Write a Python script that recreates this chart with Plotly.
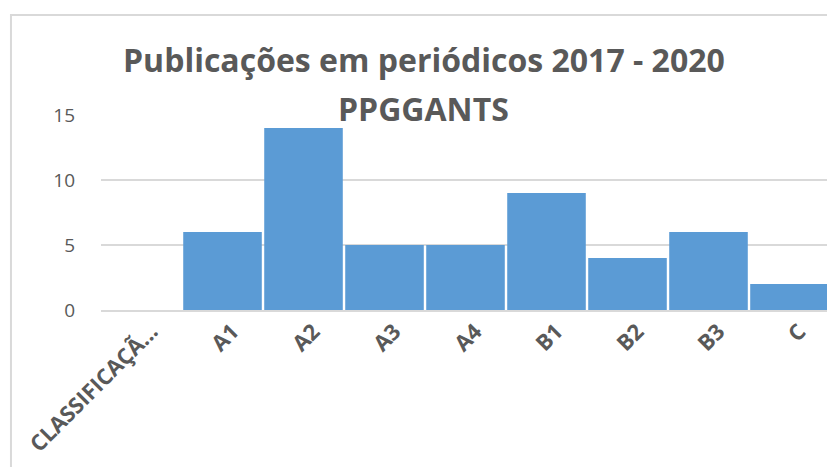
import plotly.graph_objects as go

categorias = ["CLASSIFICAÇÃ...", "A1", "A2", "A3", "A4", "B1", "B2", "B3", "C"]
publicacoes = [None, 6, 14, 5, 5, 9, 4, 6, 2]
titulo = ["Publicações em periódicos 2017 - 2020", "PPGGANTS"]

fig = go.Figure(data=[
    go.Bar(
        x=categorias,
        y=publicacoes,
        marker=dict(color="#5b9bd5", line=dict(width=0)),
    )
])

# a pagina tem 8px de margem no body, por isso a figura e um pouco menor
fig.update_layout(
    width=827,
    height=459,
    margin=dict(l=93, r=5, t=107, b=157),
    paper_bgcolor="white",
    plot_bgcolor="white",
    bargap=0.03,
    showlegend=False,
    font=dict(family="Open Sans", color="#595959"),
)

# titulo em duas linhas, como no grafico original
fig.add_annotation(text="<b>" + titulo[0] + "</b>", xref="paper", yref="paper",
                   x=0.443, y=1.285, xanchor="center", yanchor="middle",
                   showarrow=False, font=dict(size=32, color="#595959"))
fig.add_annotation(text="<b>" + titulo[1] + "</b>", xref="paper", yref="paper",
                   x=0.443, y=1.035, xanchor="center", yanchor="middle",
                   showarrow=False, font=dict(size=32, color="#595959"))

# moldura da area do grafico
fig.add_shape(type="rect", xref="paper", yref="paper",
              x0=-0.1235, y0=-0.85, x1=1.05, y1=1.513,
              line=dict(color="#d9d9d9", width=2), layer="below")

fig.update_xaxes(
    tickangle=-45,
    tickfont=dict(size=22, color="#595959", family="Open Sans", weight="bold"),
    showgrid=False,
    showline=True,
    linecolor="#d9d9d9",
    linewidth=2,
    ticks="",
    ticklabelstandoff=-2,
    ticklabelshift=10,
    automargin=False,
)
fig.update_yaxes(
    range=[0, 15],
    tickvals=[0, 5, 10, 15],
    tickfont=dict(size=19, color="#595959", family="Open Sans"),
    showgrid=True,
    gridcolor="#d9d9d9",
    gridwidth=2,
    zeroline=False,
    showline=False,
    ticks="",
    ticklabelstandoff=25,
    automargin=False,
)

fig.write_html("out.html")
